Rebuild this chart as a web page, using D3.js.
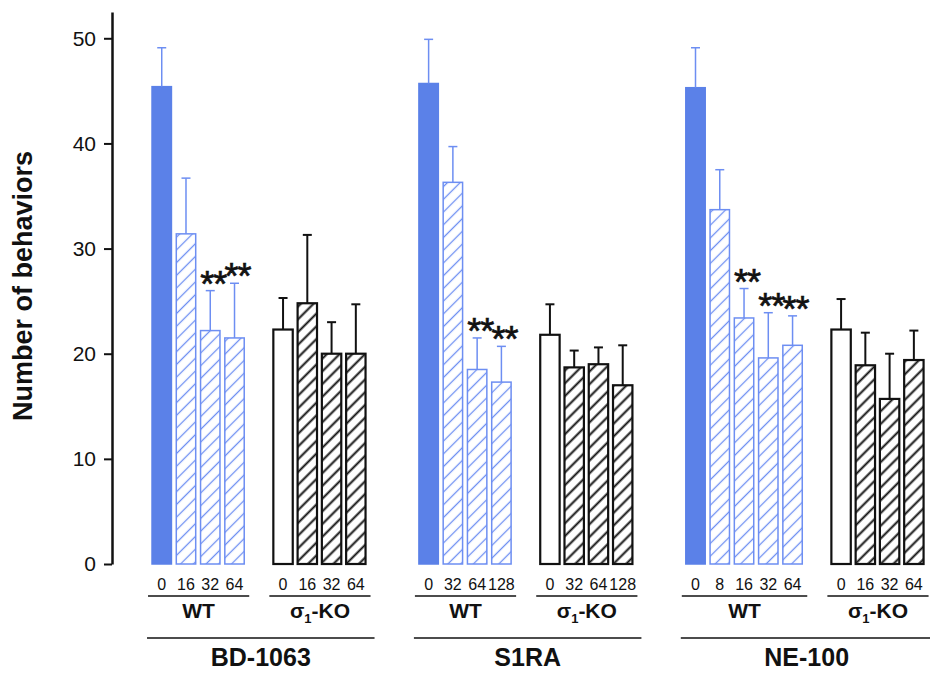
<!DOCTYPE html>
<html>
<head>
<meta charset="utf-8">
<script src="https://cdn.jsdelivr.net/npm/d3@7"></script>
<style>
  body { margin: 0; background: #fff; }
  text { font-family: "Liberation Sans", Arial, Helvetica, sans-serif; }
</style>
</head>
<body>
<svg id="chart" width="930" height="673"></svg>
<script>
// data
const drugs = ["BD-1063", "S1RA", "NE-100"];
const wtDoses = [["0", "16", "32", "64"], ["0", "32", "64", "128"], ["0", "8", "16", "32", "64"]];
const koDoses = [["0", "16", "32", "64"], ["0", "32", "64", "128"], ["0", "16", "32", "64"]];
const wtMeans = [[45.4, 31.4, 22.2, 21.5], [45.7, 36.3, 18.5, 17.3], [45.3, 33.7, 23.4, 19.6, 20.8]];
const wtErr = [[3.7, 5.3, 3.8, 5.2], [4.2, 3.4, 3.0, 3.4], [3.8, 3.8, 2.8, 4.3, 2.8]];
const koMeans = [[22.3, 24.8, 20.0, 20.0], [21.8, 18.7, 19.0, 17.0], [22.3, 18.9, 15.7, 19.4]];
const koErr = [[3.0, 6.5, 3.0, 4.7], [2.9, 1.6, 1.6, 3.8], [2.9, 3.1, 4.3, 2.8]];
const wtSig = [[0, 0, 1, 1], [0, 0, 1, 1], [0, 0, 1, 1, 1]];
const yTicks = [0, 10, 20, 30, 40, 50];

const blue = "#5b81e8";
const blueLine = "#6d8ef2";

const svg = d3.select("#chart");

// lay bars out on slots: one empty slot between WT and KO, two between drugs
let bars = [];
let groups = [];
let slot = 0;
drugs.forEach((drug, g) => {
  const wtStart = slot;
  wtMeans[g].forEach((v, i) => {
    bars.push({slot: slot++, geno: "WT", value: v, err: wtErr[g][i], dose: wtDoses[g][i], first: i == 0, sig: wtSig[g][i]});
  });
  const wtEnd = slot - 1;
  slot++;
  const koStart = slot;
  koMeans[g].forEach((v, i) => {
    bars.push({slot: slot++, geno: "KO", value: v, err: koErr[g][i], dose: koDoses[g][i], first: i == 0, sig: 0});
  });
  const koEnd = slot - 1;
  groups.push({drug, wtStart, wtEnd, koStart, koEnd});
  slot += 2;
});
const nSlots = slot - 2;

const x = d3.scaleBand()
  .domain(d3.range(nSlots))
  .range([149.6, 926])
  .paddingInner(0.2)
  .paddingOuter(0.1);
const bw = x.bandwidth();

const y = d3.scaleLinear()
  .domain([0, 52.5])
  .range([564, 12]);

// hatch patterns
const defs = svg.append("defs");
function hatch(id, color, w) {
  const p = defs.append("pattern")
    .attr("id", id)
    .attr("patternUnits", "userSpaceOnUse")
    .attr("width", 9)
    .attr("height", 9)
    .attr("patternTransform", "rotate(45)");
  p.append("line")
    .attr("x1", 4.5).attr("y1", 0)
    .attr("x2", 4.5).attr("y2", 9)
    .attr("stroke", color)
    .attr("stroke-width", w);
}
hatch("hatchBlue", blueLine, 1.3);
hatch("hatchBlack", "#111", 2);

// y axis
const yAxis = svg.append("g")
  .attr("transform", "translate(112,0)")
  .call(d3.axisLeft(y).tickValues(yTicks).tickSize(8).tickSizeOuter(0).tickPadding(8));
yAxis.select(".domain").attr("stroke-width", 2.5).attr("stroke", "#111");
yAxis.selectAll(".tick line").attr("stroke-width", 2).attr("stroke", "#111");
yAxis.selectAll(".tick text")
  .attr("font-size", 21)
  .attr("font-family", "'Liberation Sans', Arial, sans-serif")
  .attr("fill", "#111");

svg.append("text")
  .attr("transform", "translate(32,286) rotate(-90)")
  .attr("text-anchor", "middle")
  .attr("font-size", 27)
  .attr("font-weight", "bold")
  .attr("fill", "#111")
  .text("Number of behaviors");

// bars
svg.append("g")
  .selectAll("rect")
  .data(bars)
  .enter()
  .append("rect")
    .attr("x", d => x(d.slot))
    .attr("y", d => y(d.value))
    .attr("width", bw)
    .attr("height", d => y(0) - y(d.value))
    .attr("fill", d => {
      if (d.geno == "WT") return d.first ? blue : "url(#hatchBlue)";
      return d.first ? "#fff" : "url(#hatchBlack)";
    })
    .attr("stroke", d => d.geno == "WT" ? (d.first ? blue : blueLine) : "#111")
    .attr("stroke-width", d => d.geno == "WT" ? 1.5 : 2.2);

// error bars (upper only)
const eb = svg.append("g")
  .selectAll("g")
  .data(bars)
  .enter()
  .append("g")
    .attr("stroke", d => d.geno == "WT" ? blueLine : "#111")
    .attr("stroke-width", d => d.geno == "WT" ? 1.5 : 2);
eb.append("line")
  .attr("x1", d => x(d.slot) + bw / 2)
  .attr("x2", d => x(d.slot) + bw / 2)
  .attr("y1", d => y(d.value))
  .attr("y2", d => y(d.value + d.err));
eb.append("line")
  .attr("x1", d => x(d.slot) + bw / 2 - 4.5)
  .attr("x2", d => x(d.slot) + bw / 2 + 4.5)
  .attr("y1", d => y(d.value + d.err))
  .attr("y2", d => y(d.value + d.err));

// significance stars
svg.append("g")
  .selectAll("text")
  .data(bars.filter(d => d.sig))
  .enter()
  .append("text")
    .attr("x", d => x(d.slot) + bw / 2 + 3)
    .attr("y", d => y(d.value + d.err) + 6)
    .attr("text-anchor", "middle")
    .attr("font-size", 36)
    .attr("letter-spacing", -1)
    .attr("fill", "#111")
    .attr("stroke", "#111")
    .attr("stroke-width", 0.7)
    .text("**");

// dose labels
svg.append("g")
  .selectAll("text")
  .data(bars)
  .enter()
  .append("text")
    .attr("x", d => x(d.slot) + bw / 2)
    .attr("y", 590)
    .attr("text-anchor", "middle")
    .attr("font-size", 16)
    .attr("fill", "#111")
    .text(d => d.dose);

// genotype and drug labels
const lab = svg.append("g").attr("fill", "#111");
groups.forEach(gr => {
  const wx0 = x(gr.wtStart) - 4, wx1 = x(gr.wtEnd) + bw + 5;
  const kx0 = x(gr.koStart) - 4, kx1 = x(gr.koEnd) + bw + 5;
  lab.append("line").attr("x1", wx0).attr("x2", wx1).attr("y1", 596).attr("y2", 596)
    .attr("stroke", "#111").attr("stroke-width", 1.5);
  lab.append("line").attr("x1", kx0).attr("x2", kx1).attr("y1", 596).attr("y2", 596)
    .attr("stroke", "#111").attr("stroke-width", 1.5);
  lab.append("text")
    .attr("x", (wx0 + wx1) / 2).attr("y", 618)
    .attr("text-anchor", "middle").attr("font-size", 21).attr("font-weight", "bold")
    .text("WT");
  const ko = lab.append("text")
    .attr("x", (kx0 + kx1) / 2).attr("y", 618)
    .attr("text-anchor", "middle").attr("font-size", 21).attr("font-weight", "bold");
  ko.append("tspan").text("σ");
  ko.append("tspan").attr("font-size", 13).attr("dy", 5).text("1");
  ko.append("tspan").attr("dy", -5).text("-KO");
  lab.append("line").attr("x1", wx0 - 1).attr("x2", kx1 + 4).attr("y1", 638).attr("y2", 638)
    .attr("stroke", "#111").attr("stroke-width", 1.5);
  lab.append("text")
    .attr("x", (wx0 + kx1 + 3) / 2).attr("y", 666)
    .attr("text-anchor", "middle").attr("font-size", 25).attr("font-weight", "bold")
    .text(gr.drug);
});
</script>
</body>
</html>
